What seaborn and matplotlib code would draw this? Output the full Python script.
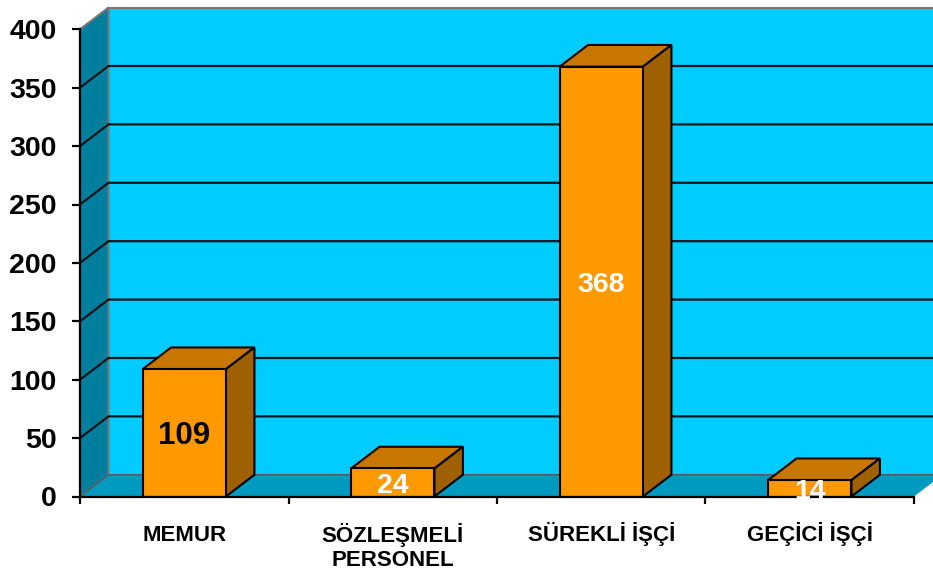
import matplotlib
matplotlib.use('Agg')
import matplotlib.pyplot as plt
from matplotlib.patches import Polygon
from matplotlib.transforms import ScaledTranslation
import numpy as np
import pandas as pd
import seaborn as sns

categories = ['MEMUR', 'SÖZLEŞMELİ\nPERSONEL', 'SÜREKLİ İŞÇİ', 'GEÇİCİ İŞÇİ']
values = [109, 24, 368, 14]
y_ticks = [0, 50, 100, 150, 200, 250, 300, 350, 400]
label_colors = ['black', 'white', 'white', 'white']

sns.set_theme(style='white')
plt.rcParams['font.family'] = ['Liberation Sans', 'DejaVu Sans']
plt.rcParams['font.weight'] = 'bold'

df = pd.DataFrame({'group': categories, 'count': values})

fig = plt.figure(figsize=(9.33, 5.72), dpi=100)
ax = fig.add_axes([80 / 933, 1 - 496.5 / 572, 834 / 933, 467.2 / 572])

# fake 3d depth, in data units
dx = 0.1366
dy = 18.6
x0, x1 = -0.5, 3.5
top = 400


def face(points, color, edge='black', lw=1.5, z=1):
    ax.add_patch(Polygon(points, closed=True, facecolor=color, edgecolor=edge,
                         linewidth=lw, zorder=z, clip_on=False, joinstyle='miter'))


# walls and floor
face([(x0 + dx, dy), (x1 + dx, dy), (x1 + dx, top + dy), (x0 + dx, top + dy)], '#00CCFF', edge='#777777', z=0.5)
face([(x0, 0), (x0 + dx, dy), (x0 + dx, top + dy), (x0, top)], '#007E9E', edge='#777777', z=0.6)
face([(x0, 0), (x1, 0), (x1 + dx, dy), (x0 + dx, dy)], '#0099BF', edge='none', lw=0, z=0.6)

for v in y_ticks[:-1]:
    ax.plot([x0, x0 + dx, x1 + dx], [v, v + dy, v + dy], color='#555555' if v == 0 else '#06141A',
            lw=0.9 if v == 0 else 1.6, zorder=0.8, clip_on=False, solid_joinstyle='miter')

sns.barplot(data=df, x='group', y='count', order=categories, width=0.4, color='#FF9900',
            saturation=1, edgecolor='black', linewidth=1.5, zorder=2, ax=ax)

# top and side of every bar, taken from the drawn rectangles
for bar in ax.containers[0]:
    left, right = bar.get_x(), bar.get_x() + bar.get_width()
    h = bar.get_height()
    face([(left, h), (right, h), (right + dx, h + dy), (left + dx, h + dy)], '#C77700', z=1.9)
    face([(right, 0), (right + dx, dy), (right + dx, h + dy), (right, h)], '#9E6000', z=1.9)

labels = ax.bar_label(ax.containers[0], labels=[str(v) for v in values], label_type='center',
                      fontsize=22.5, fontweight='bold', zorder=5)
for t, c in zip(labels, label_colors):
    t.set_color(c)
    t.xyann = (0, -2.5)
    if c == 'white':
        t.set_fontsize(20.5)

ax.set_xlim(x0, x1)
ax.set_ylim(0, top)
ax.set_xlabel('')
ax.set_ylabel('')
ax.set_yticks(y_ticks)
ax.tick_params(axis='y', left=True, length=6, width=1.6, color='black', labelsize=20.5, pad=11)
for t in ax.get_yticklabels():
    t.set_fontweight('bold')
    t.set_color('black')

# ticks between the groups, names at the centres
ax.set_xticks(np.arange(x0, x1 + 1), labels=[])
ax.set_xticks(np.arange(len(categories)), labels=categories, minor=True)
ax.tick_params(axis='x', which='major', bottom=True, length=5, width=1.6, color='black')
ax.tick_params(axis='x', which='minor', bottom=False, length=0, labelsize=16, pad=32)
for t in ax.get_xticklabels(minor=True):
    t.set_fontweight('bold')
    t.set_linespacing(1.18)
    t.set_color('black')
    t.set_verticalalignment('baseline')
    # baseline alignment uses the last line, so push two-line names down one line
    if '\n' in t.get_text():
        t.set_transform(t.get_transform() + ScaledTranslation(0, -0.25, fig.dpi_scale_trans))

sns.despine(ax=ax, top=True, right=True)
ax.patch.set_visible(False)
for side in ['left', 'bottom']:
    ax.spines[side].set_color('black')
    ax.spines[side].set_linewidth(1.6)
    ax.spines[side].set_zorder(3)

fig.savefig('out.png', dpi=100)
